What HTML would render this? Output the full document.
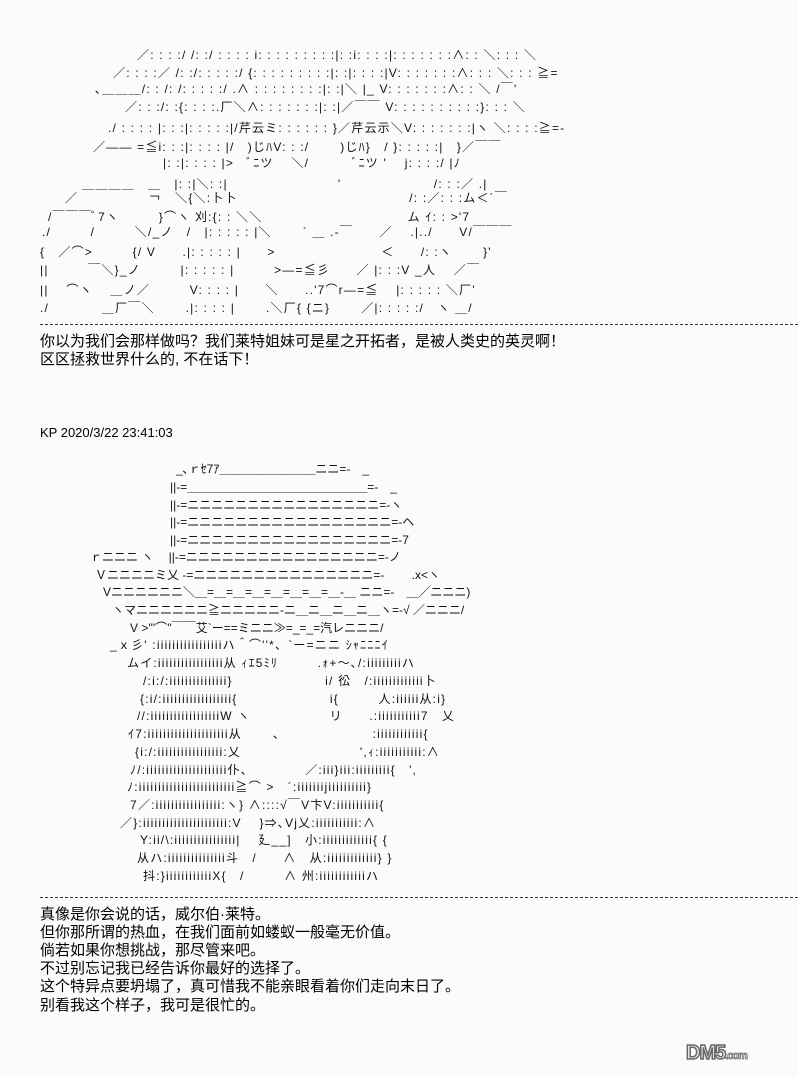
<!DOCTYPE html>
<html><head><meta charset="utf-8">
<style>
html,body{margin:0;padding:0}
body{width:798px;height:1078px;position:relative;background:#fbfbfc;overflow:hidden;color:#000}
.a{position:absolute;white-space:pre;font-family:"Liberation Sans","Noto Sans CJK JP",sans-serif;font-size:12px;line-height:14px;color:#111;letter-spacing:1.2px}
.h{letter-spacing:0}
.b{letter-spacing:1.2px}
.t{position:absolute;left:40px;white-space:pre;font-family:"Liberation Sans","Noto Sans CJK SC",sans-serif;font-size:15px;line-height:18px;color:#000}
.sep{position:absolute;left:40px;width:758px;height:0;border-top:1px dashed #333}
.logo{position:absolute;left:686px;top:1042px;font-family:"Liberation Sans",sans-serif;font-weight:bold;font-size:20px;color:#eee;-webkit-text-stroke:1.5px #666;letter-spacing:-1px}
.logo small{font-size:11px;-webkit-text-stroke:0.8px #666}
</style></head><body>

<div class="a" style="left:137px;top:48px">／: : : :/ /: :/ : : : : i: : : : : : : : :|: :i: : : :|: : : : : : :∧: : ＼: : : ＼</div>
<div class="a" style="left:113px;top:66px">／: : : :／ /: :/: : : : :/ {: : : : : : : : :|: :|: : : :|V: : : : : : :∧: : : ＼: : : ≧=</div>
<div class="a" style="left:95px;top:82px">､＿＿＿/: : /: /: : : : :/ .∧ : : : : : : : :|: :|＼ |_ V: : : : : : :∧: : ＼ /￣'</div>
<div class="a" style="left:125px;top:100px">／: : :/: :{: : : :.厂＼∧: : : : : : :|: :|／￣￣ V: : : : : : : : : :}: : : ＼</div>
<div class="a" style="left:108px;top:121px">./ : : : : |: : :|: : : : :|/芹云ミ: : : : : : }／芹云示＼V: : : : : : :|ヽ ＼: : : :≧=-</div>
<div class="a" style="left:93px;top:140px">／—— =≦i: : :|: : : : |/　)じﾊV: : :/　　 )じﾊ}　/ }: : : : :|　}／￣￣</div>
<div class="a" style="left:163px;top:156px">|: :|: : : : |>　ﾞﾆツ 　＼/　　　 ﾞﾆツ '　 j: : : :/ |ﾉ</div>
<div class="a" style="left:82px;top:177px">＿＿＿＿　＿　|: :|＼: :|　　　　　　　　 '　　　　　　　/: : :／ .|</div>
<div class="a" style="left:65px;top:191px">／　　　　　 ￢　＼{＼:卜卜　　　　　　　　　　　　　/: :／: : :ム＜´￣</div>
<div class="a" style="left:48px;top:210px">/￣￣￣ﾞ7ヽ　　　}⌒ヽ 刈:{: : ＼＼　　　　　　　　　　　ム ｲ: : >'7</div>
<div class="a" style="left:42px;top:225px">./　　　/　　　＼/_ノ　/　|: : : : : |＼　　 ` ＿ .-￣　　／　 .|../　　V/￣￣￣</div>
<div class="a" style="left:40px;top:245px">{　／⌒>　　　{/ V　　.|: : : : : |　　>　　　　　　　　＜　　/: :ヽ　　 }'</div>
<div class="a" style="left:40px;top:263px">||　　　￣＼}_ノ　　　|: : : : : |　　　>—=≦彡　　／ |: : :V _人　 ／￣</div>
<div class="a" style="left:40px;top:283px">||　 ⌒ヽ　 ＿ノ／　　　V: : : : |　　＼　　..'7⌒r—=≦　 |: : : : : ＼厂'</div>
<div class="a" style="left:40px;top:301px">./　　　　＿厂￣＼　　 .|: : : : |　　 .＼厂{ {ニ}　　 ／|: : : : :/　ヽ ＿/</div>

<div class="sep" style="top:324px"></div>
<div class="t" style="top:333px">你以为我们会那样做吗？我们莱特姐妹可是星之开拓者，是被人类史的英灵啊！</div>
<div class="t" style="top:351px">区区拯救世界什么的, 不在话下！</div>

<div class="t" style="top:424px;font-size:13px">KP 2020/3/22 23:41:03</div>

<div class="a h" style="left:176px;top:462px">_､ｒｾ7ｱ＿＿＿＿＿＿＿＿ニニ=-　_</div>
<div class="a h" style="left:170px;top:480px">||-=＿＿＿＿＿＿＿＿＿＿＿＿＿＿＿=-　_</div>
<div class="a h" style="left:170px;top:498px">||-=ニニニニニニニニニニニニニニニニ=-ヽ</div>
<div class="a h" style="left:170px;top:515px">||-=ニニニニニニニニニニニニニニニニニ=-ヘ</div>
<div class="a h" style="left:170px;top:533px">||-=ニニニニニニニニニニニニニニニニニ=-7</div>
<div class="a h" style="left:90px;top:550px">ｒニニニ ヽ　 ||-=ニニニニニニニニニニニニニニニニ=-ノ</div>
<div class="a h" style="left:95px;top:568px">Ｖニニニニミ乂 -=ニニニニニニニニニニニニニニニ=-　　 .x&lt;ヽ</div>
<div class="a h" style="left:103px;top:585px">Vニニニニニニ＼＿=＿=＿=＿=＿=＿=＿=＿-＿ ニニ=-　＿／ニニニ)</div>
<div class="a h" style="left:112px;top:603px">ヽマニニニニニニ≧ニニニニニ-ニ＿ニ＿ニ＿ニ＿ヽ=-√ ／ニニニ/</div>
<div class="a h" style="left:130px;top:621px">V >'''⌒''￣￣艾`ー==ミニニ≫=_=_=汽レニニニ/</div>
<div class="a b" style="left:110px;top:638px">_ｘ彡' :iiiiiiiiiiiiiiiiiハ＾⌒''*、`ー=ニニ ｼｬﾆﾆﾆｲ</div>
<div class="a b" style="left:127px;top:656px">ムイ:iiiiiiiiiiiiiiiii从 ｨｴ5ﾐﾘ　　　.ｫ+～､/:iiiiiiiiiハ</div>
<div class="a b" style="left:143px;top:674px">/:i:/:iiiiiiiiiiiiiii}　　　　　　　i/ 彸　/:iiiiiiiiiiiii卜</div>
<div class="a b" style="left:140px;top:692px">{:i/:iiiiiiiiiiiiiiiiii{　　　　　　　i{　　　人:iiiiii从:i}</div>
<div class="a b" style="left:137px;top:709px">//:iiiiiiiiiiiiiiiiiiW ヽ　　　　　　リ　　.:iiiiiiiiiii7　乂</div>
<div class="a b" style="left:128px;top:727px">ｲ7:iiiiiiiiiiiiiiiiiiiii从　　 、　　　　　　　:iiiiiiiiiiii{</div>
<div class="a b" style="left:135px;top:745px">{i:/:iiiiiiiiiiiiiiiii:乂　　　　　　　　　',ｨ:iiiiiiiiiii:∧</div>
<div class="a b" style="left:130px;top:763px">ﾉ/:iiiiiiiiiiiiiiiiiiiii仆、　　　　 ／:iii}iii:iiiiiiiii{　',</div>
<div class="a b" style="left:127px;top:780px">ﾉ:iiiiiiiiiiiiiiiiiiiiiiiii≧⌒ >　´:iiiiiiijiiiiiiiiii}</div>
<div class="a b" style="left:130px;top:798px">7／:iiiiiiiiiiiiiiiii:ヽ} ∧::::√￣V卞V:iiiiiiiiiii{</div>
<div class="a b" style="left:120px;top:816px">／}:iiiiiiiiiiiiiiiiiiiiii:V　 }⇒､Vj乂:iiiiiiiiiii:∧</div>
<div class="a b" style="left:140px;top:833px">Y:ii/\:iiiiiiiiiiiiiiii|　 廴__]　小:iiiiiiiiiiiii{ {</div>
<div class="a b" style="left:137px;top:851px">从ハ:iiiiiiiiiiiiiii斗　/　　∧　从:iiiiiiiiiiiii} }</div>
<div class="a b" style="left:143px;top:869px">抖:}iiiiiiiiiiiiX{　/　　　∧ 州:iiiiiiiiiiiiハ</div>

<div class="sep" style="top:897px"></div>
<div class="t" style="top:906px">真像是你会说的话，威尔伯·莱特。</div>
<div class="t" style="top:924px">但你那所谓的热血，在我们面前如蝼蚁一般毫无价值。</div>
<div class="t" style="top:942px">倘若如果你想挑战，那尽管来吧。</div>
<div class="t" style="top:960px">不过别忘记我已经告诉你最好的选择了。</div>
<div class="t" style="top:978px">这个特异点要坍塌了，真可惜我不能亲眼看着你们走向末日了。</div>
<div class="t" style="top:997px">别看我这个样子，我可是很忙的。</div>

<div class="logo">DM5<small>.com</small></div>
</body></html>
